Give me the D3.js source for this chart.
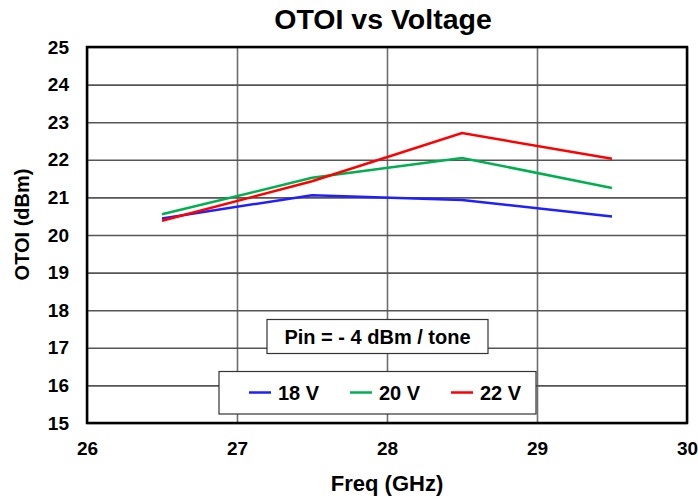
<!DOCTYPE html>
<html>
<head>
<meta charset="utf-8">
<script src="https://cdn.jsdelivr.net/npm/d3@7"></script>
<style>
  body { margin: 0; background: #fff; }
  text { font-family: "Liberation Sans", Arial, sans-serif; font-weight: bold; fill: #000; }
</style>
</head>
<body>
<div id="chart"></div>
<script>
// data
var freqs = [26.5, 27.5, 28.5, 29.5];
var otoi18 = [20.44, 21.06, 20.93, 20.49];
var otoi20 = [20.55, 21.52, 22.05, 21.25];
var otoi22 = [20.38, 21.43, 22.71, 22.03];
var seriesNames = ["18 V", "20 V", "22 V"];
var seriesColors = ["#1f1fff", "#00b050", "#ff0000"];
var xTicks = [26, 27, 28, 29, 30];
var yTicks = [15, 16, 17, 18, 19, 20, 21, 22, 23, 24, 25];

var svgWidth = 698;
var svgHeight = 500;
var margin = { top: 47, right: 11, bottom: 77, left: 87 };
var width = svgWidth - margin.left - margin.right;
var height = svgHeight - margin.top - margin.bottom;

var svg = d3.select("#chart")
    .append("svg")
    .attr("width", svgWidth)
    .attr("height", svgHeight);

var chartGroup = svg.append("g")
    .attr("transform", `translate(${margin.left}, ${margin.top})`);

var xScale = d3.scaleLinear().domain([26, 30]).range([0, width]);
var yScale = d3.scaleLinear().domain([15, 25]).range([height, 0]);

// grid lines
chartGroup.append("g")
    .call(d3.axisBottom(xScale).tickValues(xTicks).tickSize(height).tickFormat(""))
    .call(g => g.select(".domain").remove())
    .call(g => g.selectAll("line").attr("stroke", "#6e6e6e").attr("stroke-width", 1.6));
chartGroup.append("g")
    .call(d3.axisLeft(yScale).tickValues(yTicks).tickSize(-width).tickFormat(""))
    .call(g => g.select(".domain").remove())
    .call(g => g.selectAll("line").attr("stroke", "#555").attr("stroke-width", 1.6));

// axes labels
var xAxis = chartGroup.append("g")
    .attr("transform", `translate(0, ${height})`)
    .call(d3.axisBottom(xScale).tickValues(xTicks).tickSize(0).tickPadding(19).tickFormat(d3.format("d")));
xAxis.select(".domain").remove();
xAxis.selectAll("text").attr("font-size", "19px");

var yAxis = chartGroup.append("g")
    .call(d3.axisLeft(yScale).tickValues(yTicks).tickSize(0).tickPadding(18).tickFormat(d3.format("d")));
yAxis.select(".domain").remove();
yAxis.selectAll("text").attr("font-size", "19px");

// series
var series = [otoi18, otoi20, otoi22];
var line = d3.line()
    .x((d, i) => xScale(freqs[i]))
    .y(d => yScale(d));

chartGroup.selectAll(".series")
    .data(series)
    .enter()
    .append("path")
    .attr("class", "series")
    .attr("fill", "none")
    .attr("stroke", (d, i) => seriesColors[i])
    .attr("stroke-width", 2.5)
    .attr("d", line);

// Pin annotation box
chartGroup.append("rect")
    .attr("x", 180).attr("y", 272.5)
    .attr("width", 221).attr("height", 34)
    .attr("fill", "#fff").attr("stroke", "#333").attr("stroke-width", 1.2);
chartGroup.append("text")
    .attr("x", 290.5).attr("y", 297)
    .attr("text-anchor", "middle")
    .attr("font-size", "20px")
    .text("Pin = - 4 dBm / tone");

// legend
var legend = chartGroup.append("g");
legend.append("rect")
    .attr("x", 132).attr("y", 324.5)
    .attr("width", 317).attr("height", 42.5)
    .attr("fill", "#fff").attr("stroke", "#333").attr("stroke-width", 1.2);
var legendX = [162, 263, 364];
seriesNames.forEach(function(name, i) {
    legend.append("line")
        .attr("x1", legendX[i]).attr("x2", legendX[i] + 22)
        .attr("y1", 345.5).attr("y2", 345.5)
        .attr("stroke", seriesColors[i]).attr("stroke-width", 2.5);
    legend.append("text")
        .attr("x", legendX[i] + 29).attr("y", 352.5)
        .attr("font-size", "20px")
        .text(name);
});

// frame
chartGroup.append("rect")
    .attr("width", width).attr("height", height)
    .attr("fill", "none").attr("stroke", "#000").attr("stroke-width", 2.5);

// titles
svg.append("text")
    .attr("x", 383).attr("y", 28.5)
    .attr("text-anchor", "middle")
    .attr("font-size", "28.5px")
    .text("OTOI vs Voltage");

svg.append("text")
    .attr("x", 387).attr("y", 491)
    .attr("text-anchor", "middle")
    .attr("font-size", "22px")
    .text("Freq (GHz)");

svg.append("text")
    .attr("transform", "rotate(-90)")
    .attr("x", -224.5)
    .attr("y", 29)
    .attr("text-anchor", "middle")
    .attr("font-size", "20px")
    .text("OTOI (dBm)");
</script>
</body>
</html>
